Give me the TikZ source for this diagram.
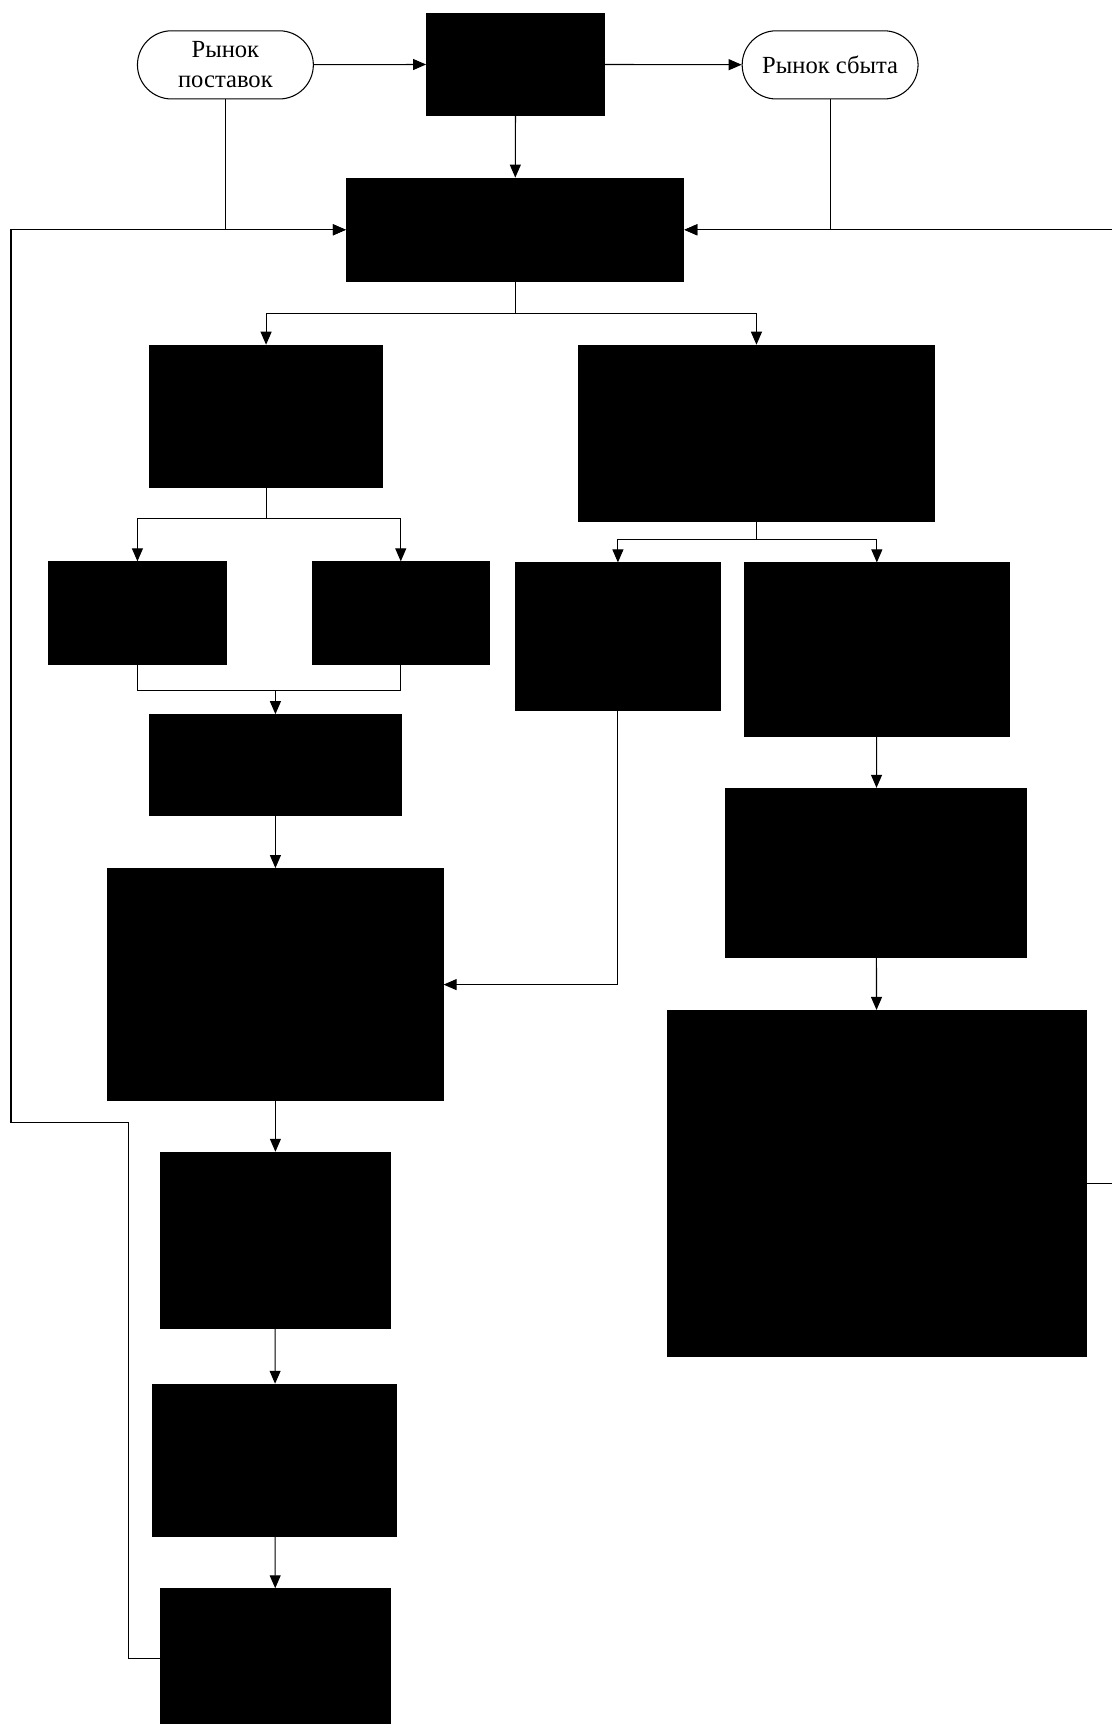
\documentclass[tikz,border=0pt]{standalone}
\usepackage{fontspec}
\setmainfont{Liberation Serif}
\usetikzlibrary{arrows.meta,shapes.misc}
\begin{document}
\begin{tikzpicture}[x=0.022cm,y=-0.022cm,line width=0.6pt,
  blk/.style={draw,fill=black,inner sep=0pt},
  mkt/.style={rounded rectangle,draw,inner sep=0pt,minimum width=3.52cm,minimum height=1.364cm,align=center,font=\fontsize{14}{17}\selectfont},
  arr/.style={-{Triangle[length=2.6mm,width=2.2mm]}}]
\useasboundingbox (0,0) rectangle (1011,1568);
% top row
\node[mkt] (sup) at (205,59) {Рынок\\поставок};
\node[blk,minimum width=3.564cm,minimum height=2.046cm] (prod) at (469,58.5) {};
\node[mkt] (sbyt) at (755,59) {Рынок сбыта};
\node[blk,minimum width=6.754cm,minimum height=2.068cm] (main) at (468.5,209) {};
% left branch
\node[blk,minimum width=4.664cm,minimum height=2.838cm] (l1) at (242,378.5) {};
\node[blk,minimum width=3.564cm,minimum height=2.046cm] (l2a) at (125,557.5) {};
\node[blk,minimum width=3.542cm,minimum height=2.046cm] (l2b) at (364.5,557.5) {};
\node[blk,minimum width=5.038cm,minimum height=2.024cm] (l3) at (250.5,696) {};
\node[blk,minimum width=6.71cm,minimum height=4.642cm] (l4) at (250.5,895.5) {};
\node[blk,minimum width=4.598cm,minimum height=3.52cm] (l5) at (250.5,1128) {};
\node[blk,minimum width=4.884cm,minimum height=3.036cm] (l6) at (250,1328) {};
\node[blk,minimum width=4.598cm,minimum height=2.772cm] (l7) at (250.5,1508) {};
% right branch
\node[blk,minimum width=7.128cm,minimum height=3.52cm] (r1) at (688,394) {};
\node[blk,minimum width=4.092cm,minimum height=2.948cm] (r2a) at (562,579) {};
\node[blk,minimum width=5.302cm,minimum height=3.476cm] (r2b) at (797.5,591) {};
\node[blk,minimum width=6.028cm,minimum height=3.388cm] (r3) at (797,794) {};
\node[blk,minimum width=8.382cm,minimum height=6.93cm] (r4) at (797.5,1076.5) {};
\coordinate (j1) at (250.5,628);
% connectors
\draw[arr] (sup) -- (prod);
\draw[arr] (prod) -- (sbyt);
\draw[arr] (prod) -- (main);
\draw[arr] (sup.south) |- (main.west);
\draw[arr] (sbyt.south) |- (main.east);
\draw[arr] (l7.west) -| (117,1021) -| (10,209) -- (main.west);
\draw[arr] (r4.east) -| (1030,209) -- (main.east);
\draw[arr] (main.south) -- ++(0,29) -| (l1.north);
\draw[arr] (main.south) -- ++(0,29) -| (r1.north);
\draw[arr] (l1.south) -- ++(0,28) -| (l2a.north);
\draw[arr] (l1.south) -- ++(0,28) -| (l2b.north);
\draw (l2a.south) |- (j1) -| (l2b.south);
\draw[arr] (j1) -- (l3.north);
\draw[arr] (l3) -- (l4);
\draw[arr] (l4) -- (l5);
\draw[arr] (l5) -- (l6);
\draw[arr] (l6) -- (l7);
\draw[arr] (r1.south) -- ++(0,16) -| (r2a.north);
\draw[arr] (r1.south) -- ++(0,16) -| (r2b.north);
\draw[arr] (r2a.south) |- (l4.east);
\draw[arr] (r2b) -- (r3);
\draw[arr] (r3) -- (r4);
\end{tikzpicture}
\end{document}
